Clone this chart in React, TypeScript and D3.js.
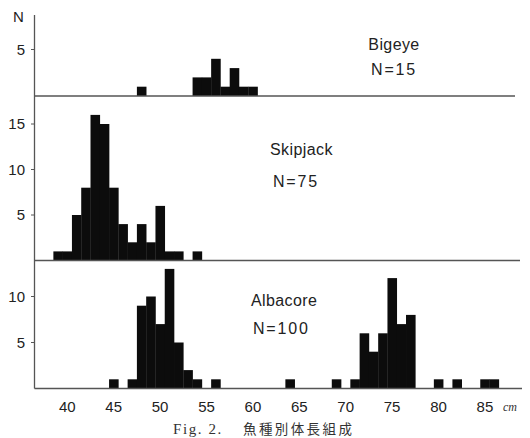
import * as d3 from "d3";

// body length (cm) and number of fish
const bigeyeLen = [48, 54, 55, 56, 57, 58, 59, 60];
const bigeyeN = [1, 2, 2, 4, 1, 3, 1, 1];

const skipjackLen = [39, 40, 41, 42, 43, 44, 45, 46, 47, 48, 49, 50, 51, 52, 54];
const skipjackN = [1, 1, 5, 8, 16, 15, 8, 4, 2, 4, 2, 6, 1, 1, 1];

const albacoreLen = [
  45, 47, 48, 49, 50, 51, 52, 53, 54, 56, 64, 69, 71, 72, 73, 74, 75, 76, 77, 80, 82, 85, 86,
];
const albacoreN = [1, 1, 9, 10, 7, 13, 5, 2, 1, 1, 1, 1, 1, 6, 4, 6, 12, 7, 8, 1, 1, 1, 1];

const xTicks = [40, 45, 50, 55, 60, 65, 70, 75, 80, 85];

const W = 530;
const H = 438;
const axisX = 34.5;
const sans = "'Liberation Sans', Arial, sans-serif";

const x = d3.scaleLinear().domain([40, 85]).range([67.3, 484.9]);

const panels = [
  {
    name: "Bigeye",
    total: "N=15",
    len: bigeyeLen,
    n: bigeyeN,
    ticks: [5],
    base: 96,
    unit: 9.3,
    lineEnd: 515,
    label: { x: 394, y: 50, anchor: "middle" },
    sub: { x: 394, y: 74.5, anchor: "middle" },
  },
  {
    name: "Skipjack",
    total: "N=75",
    len: skipjackLen,
    n: skipjackN,
    ticks: [5, 10, 15],
    base: 260.5,
    unit: 9.1,
    lineEnd: 520,
    label: { x: 270, y: 155, anchor: "start" },
    sub: { x: 273, y: 187, anchor: "start" },
  },
  {
    name: "Albacore",
    total: "N=100",
    len: albacoreLen,
    n: albacoreN,
    ticks: [5, 10],
    base: 388.5,
    unit: 9.2,
    lineEnd: 522,
    label: { x: 251, y: 306, anchor: "start" },
    sub: { x: 253, y: 334, anchor: "start" },
  },
];

const Panel = ({ p }) => {
  const y = d3
    .scaleLinear()
    .domain([0, 10])
    .range([p.base, p.base - 10 * p.unit]);
  return (
    <g>
      {p.len.map((v, i) => (
        <rect
          key={v}
          x={x(v - 0.5)}
          y={y(p.n[i])}
          width={x(v + 0.5) - x(v - 0.5) + 0.3}
          height={y(0) - y(p.n[i])}
          fill="#0c0c0c"
        />
      ))}
      <line x1={axisX} x2={p.lineEnd} y1={y(0)} y2={y(0)} stroke="#555" strokeWidth={1.3} />
      {p.ticks.map((t) => (
        <g key={t}>
          <line x1={axisX - 3.5} x2={axisX} y1={y(t)} y2={y(t)} stroke="#555" strokeWidth={1} />
          <text
            x={25}
            y={y(t)}
            dy="0.36em"
            textAnchor="end"
            fontSize={15}
            fontFamily={sans}
            fill="#222"
          >
            {t}
          </text>
        </g>
      ))}
      <text
        x={p.label.x}
        y={p.label.y}
        textAnchor={p.label.anchor}
        fontSize={16}
        letterSpacing={0.4}
        fontFamily={sans}
        fill="#222"
      >
        {p.name}
      </text>
      <text
        x={p.sub.x}
        y={p.sub.y}
        textAnchor={p.sub.anchor}
        fontSize={16}
        letterSpacing={1.8}
        fontFamily={sans}
        fill="#222"
      >
        {p.total}
      </text>
    </g>
  );
};

export default function App() {
  return (
    <svg
      width={W}
      height={H}
      style={{ position: "absolute", left: 0, top: 0, background: "#fff" }}
    >
      <line x1={axisX} x2={axisX} y1={15} y2={388.5} stroke="#555" strokeWidth={1.3} />
      <text x={13} y={22} fontSize={15} fontFamily={sans} fill="#222">
        N
      </text>
      {panels.map((p) => (
        <Panel key={p.name} p={p} />
      ))}
      {xTicks.map((t) => (
        <text
          key={t}
          x={x(t)}
          y={412}
          textAnchor="middle"
          fontSize={15}
          fontFamily={sans}
          fill="#222"
        >
          {t}
        </text>
      ))}
      <text
        x={503}
        y={411}
        fontSize={12}
        fontStyle="italic"
        fontFamily="'Liberation Serif', serif"
        fill="#333"
      >
        cm
      </text>
      <text
        x={173}
        y={434}
        fontSize={15}
        letterSpacing={1.6}
        fontFamily="'Liberation Serif', 'DejaVu Serif', serif"
        fill="#333"
      >
        Fig. 2.
      </text>
      <text
        x={243}
        y={434}
        fontSize={13.5}
        letterSpacing={2.4}
        fontFamily="'Noto Sans CJK JP', sans-serif"
        fill="#333"
      >
        魚種別体長組成
      </text>
    </svg>
  );
}
